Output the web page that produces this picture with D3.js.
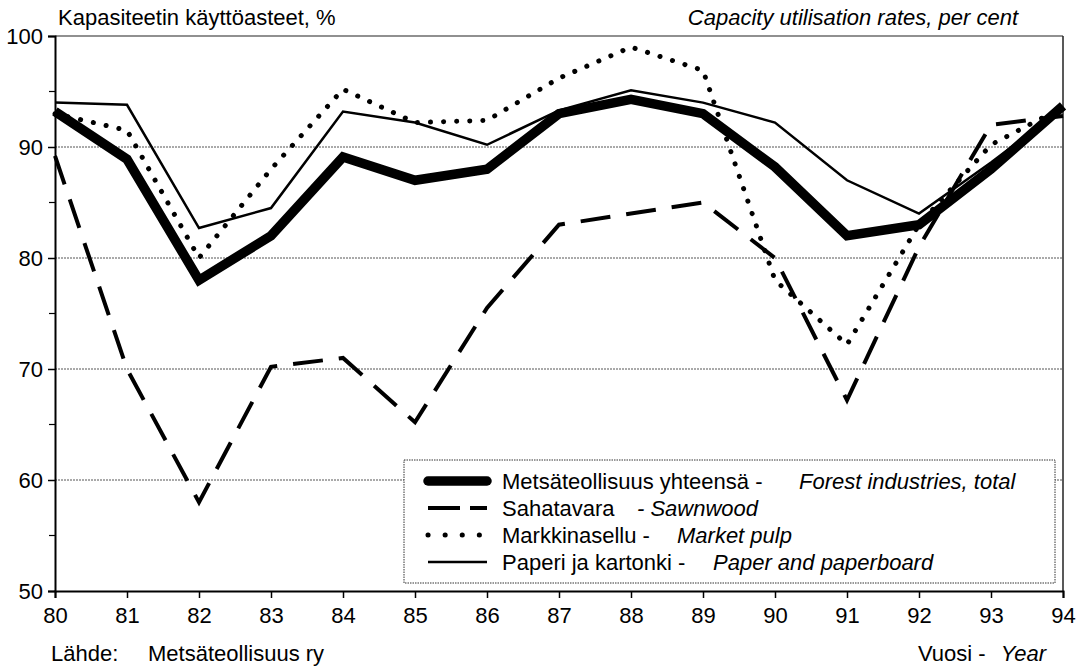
<!DOCTYPE html>
<html>
<head>
<meta charset="utf-8">
<script src="https://cdn.jsdelivr.net/npm/d3@7"></script>
<style>
  html, body { margin: 0; padding: 0; background: #fff; }
  svg { display: block; font-family: "Liberation Sans", Arial, Helvetica, sans-serif; }
</style>
</head>
<body>
<svg id="chart" width="1084" height="671"></svg>
<script>
// Capacity utilisation rates of the Finnish forest industries, 1980-1994 (%)
const years = [80, 81, 82, 83, 84, 85, 86, 87, 88, 89, 90, 91, 92, 93, 94];
const forestTotal = [93.2, 88.9, 78, 82, 89.1, 87, 88, 93, 94.3, 93, 88.2, 82, 83, 88, 93.7];
const sawnwood    = [89.2, 70, 58, 70.2, 71, 65.2, 75.5, 83, 84, 85, 80, 67.2, 81, 92, 92.8];
const marketPulp  = [93, 91.5, 80, 88, 95.2, 92.2, 92.4, 96.2, 99, 96.9, 78, 72.2, 83, 90.2, 93.6];
const paperBoard  = [94, 93.8, 82.7, 84.5, 93.2, 92.2, 90.2, 93.3, 95.1, 94, 92.2, 87, 84, 88.6, 93.5];
const yTicks = [50, 60, 70, 80, 90, 100];
const yMinorTicks = [55, 65, 75, 85, 95];
const gridValues = [60, 70, 80, 90];

const fiNames = ["Metsäteollisuus yhteensä -", "Sahatavara", "Markkinasellu -", "Paperi ja kartonki -"];
const enNames = ["Forest industries, total", "- Sawnwood", "Market pulp", "Paper and paperboard"];

const svg = d3.select("#chart");
const plotLeft = 55, plotRight = 1063, plotTop = 36, plotBottom = 591;
const fontSize = 22;

const x = d3.scaleLinear().domain([80, 94]).range([plotLeft, plotRight]);
const y = d3.scaleLinear().domain([50, 100]).range([plotBottom, plotTop]);

// Horizontal reference lines
svg.append("g").selectAll("line").data(gridValues).join("line")
  .attr("x1", plotLeft).attr("x2", plotRight)
  .attr("y1", d => y(d)).attr("y2", d => y(d))
  .attr("stroke", "#555").attr("stroke-width", 1)
  .attr("stroke-dasharray", "2,1");

// Frame: top and right edges
svg.append("line").attr("x1", plotLeft).attr("x2", plotRight).attr("y1", y(100)).attr("y2", y(100))
  .attr("stroke", "#222").attr("stroke-width", 1.2);
svg.append("line").attr("x1", plotRight).attr("x2", plotRight).attr("y1", y(100)).attr("y2", y(50))
  .attr("stroke", "#222").attr("stroke-width", 1.5);

// Axes
const xAxis = d3.axisBottom(x).tickValues(years).tickFormat(d3.format("d")).tickSize(7).tickPadding(9);
const gx = svg.append("g").attr("transform", `translate(0,${plotBottom})`).call(xAxis);
gx.select(".domain").attr("stroke", "#000").attr("stroke-width", 2);
gx.selectAll(".tick line").attr("stroke", "#000").attr("stroke-width", 1.5);
gx.selectAll(".tick text").attr("font-size", fontSize).attr("fill", "#000")
  .attr("font-family", "Liberation Sans, Arial, sans-serif");

const yAxis = d3.axisLeft(y).tickValues(yTicks).tickFormat(d3.format("d")).tickSize(7).tickPadding(5);
const gy = svg.append("g").attr("transform", `translate(${plotLeft},0)`).call(yAxis);
gy.select(".domain").attr("stroke", "#000").attr("stroke-width", 2);
gy.selectAll(".tick line").attr("stroke", "#000").attr("stroke-width", 1.5);
gy.selectAll(".tick text").attr("font-size", fontSize).attr("fill", "#000")
  .attr("font-family", "Liberation Sans, Arial, sans-serif");
svg.append("g").selectAll("line").data(yMinorTicks).join("line")
  .attr("x1", plotLeft - 6).attr("x2", plotLeft)
  .attr("y1", d => y(d)).attr("y2", d => y(d))
  .attr("stroke", "#000").attr("stroke-width", 1.2);

// Series
const line = d3.line().x((d, i) => x(years[i])).y(d => y(d));
const styles = [
  { data: forestTotal, width: 9.5, dash: null, cap: "butt" },
  { data: sawnwood, width: 4, dash: "30,16", cap: "butt" },
  { data: marketPulp, width: 5, dash: "0.1,13", cap: "round" },
  { data: paperBoard, width: 2.5, dash: null, cap: "butt" }
];
const drawOrder = [1, 2, 3, 0];
drawOrder.forEach(k => {
  const s = styles[k];
  svg.append("path").datum(s.data)
    .attr("d", line)
    .attr("fill", "none").attr("stroke", "#000")
    .attr("stroke-width", s.width)
    .attr("stroke-linejoin", "miter")
    .attr("stroke-linecap", s.cap)
    .attr("stroke-dasharray", s.dash);
});

// Legend
const lg = svg.append("g");
const lgLeft = 404, lgRight = 1055, lgTop = 460, lgBottom = 583;
lg.append("rect").attr("x", lgLeft).attr("y", lgTop)
  .attr("width", lgRight - lgLeft).attr("height", lgBottom - lgTop)
  .attr("fill", "#fff").attr("stroke", "#333").attr("stroke-width", 1)
  .attr("stroke-dasharray", "1.5,1");
const rowY = [481, 508, 535, 562];
const enX = [799, 637, 677, 713];
const legendDash = [null, "32,10", "0.1,17", null];
const legendWidth = [9.5, 4, 5, 2.5];
const legendCap = ["round", "butt", "round", "butt"];
rowY.forEach((ry, i) => {
  lg.append("line").attr("x1", 428).attr("x2", 487).attr("y1", ry).attr("y2", ry)
    .attr("stroke", "#000").attr("stroke-width", legendWidth[i])
    .attr("stroke-linecap", legendCap[i])
    .attr("stroke-dasharray", legendDash[i]);
  lg.append("text").attr("x", 502).attr("y", ry + 8)
    .attr("font-size", fontSize).text(fiNames[i]);
  lg.append("text").attr("x", enX[i]).attr("y", ry + 8)
    .attr("font-size", fontSize).attr("font-style", "italic").text(enNames[i]);
});

// Titles and notes
svg.append("text").attr("x", 58).attr("y", 25).attr("font-size", fontSize)
  .text("Kapasiteetin käyttöasteet, %");
svg.append("text").attr("x", 1018).attr("y", 25).attr("font-size", fontSize)
  .attr("font-style", "italic").attr("text-anchor", "end")
  .text("Capacity utilisation rates, per cent");
svg.append("text").attr("x", 51).attr("y", 661).attr("font-size", fontSize).text("Lähde:");
svg.append("text").attr("x", 148).attr("y", 661).attr("font-size", fontSize).text("Metsäteollisuus ry");
svg.append("text").attr("x", 918).attr("y", 661).attr("font-size", fontSize).text("Vuosi -");
svg.append("text").attr("x", 1046).attr("y", 661).attr("font-size", fontSize)
  .attr("font-style", "italic").attr("text-anchor", "end").text("Year");
</script>
</body>
</html>
